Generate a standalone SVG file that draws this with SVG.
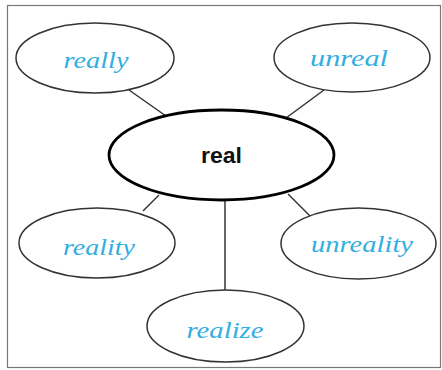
<svg xmlns="http://www.w3.org/2000/svg" width="442" height="370" viewBox="0 0 442 370">
<style>
.leaf{fill:#fff;stroke:#333;stroke-width:1.5}
.hub{fill:#fff;stroke:#000;stroke-width:2.8}
.lbl{font-family:"Liberation Serif","DejaVu Serif",serif;font-style:italic;font-size:23px;fill:#33aee0;text-anchor:middle}
.main{font-family:"Liberation Sans",Arial,sans-serif;font-size:22px;font-weight:bold;fill:#111;text-anchor:middle}
.con{stroke:#333;stroke-width:1.5;fill:none}
</style>
<rect x="0" y="0" width="442" height="370" fill="#fff"/>
<rect x="7.5" y="5.5" width="433" height="362" fill="none" stroke="#777" stroke-width="1.2"/>
<g id="connectors">
<line class="con" x1="129" y1="90" x2="166" y2="116"/>
<line class="con" x1="324" y1="90" x2="286" y2="118"/>
<line class="con" x1="159" y1="195" x2="143" y2="211"/>
<line class="con" x1="288" y1="194" x2="310" y2="216"/>
<line class="con" x1="225" y1="199" x2="225" y2="290"/>
</g>
<g id="node-really"><ellipse class="leaf" cx="95" cy="58" rx="79" ry="35"/><text class="lbl" x="96" y="68" textLength="65" lengthAdjust="spacingAndGlyphs">really</text></g>
<g id="node-unreal"><ellipse class="leaf" cx="352" cy="57.5" rx="78" ry="34.5"/><text class="lbl" x="349" y="66" textLength="78" lengthAdjust="spacingAndGlyphs">unreal</text></g>
<g id="node-real"><ellipse class="hub" cx="221.5" cy="155" rx="112.5" ry="45"/><text class="main" x="221.5" y="163" textLength="41" lengthAdjust="spacingAndGlyphs">real</text></g>
<g id="node-reality"><ellipse class="leaf" cx="97" cy="243" rx="78" ry="35"/><text class="lbl" x="99" y="255" textLength="72" lengthAdjust="spacingAndGlyphs">reality</text></g>
<g id="node-unreality"><ellipse class="leaf" cx="358.5" cy="243.5" rx="77.5" ry="35.5"/><text class="lbl" x="362" y="252" textLength="102" lengthAdjust="spacingAndGlyphs">unreality</text></g>
<g id="node-realize"><ellipse class="leaf" cx="225.5" cy="326" rx="78.5" ry="36"/><text class="lbl" x="225" y="338" textLength="77" lengthAdjust="spacingAndGlyphs">realize</text></g>
</svg>
